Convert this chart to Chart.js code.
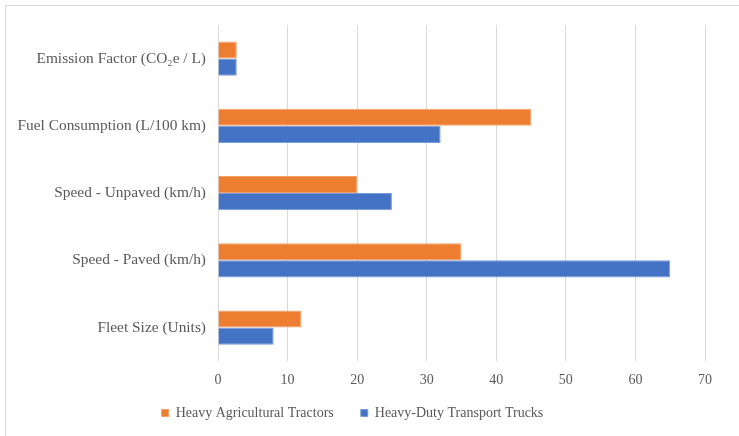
<!DOCTYPE html>
<html>
<head>
<meta charset="utf-8">
<script src="https://cdn.jsdelivr.net/npm/chart.js@4.4.0/dist/chart.umd.min.js"></script>
<style>
  body { margin: 0; background: #fff; }
  #frame { position: absolute; left: 5px; top: 5px; width: 800px; height: 800px; border: 1px solid #d9d9d9; }
  #wrap { position: absolute; left: 0; top: 0; width: 739px; height: 436px; }
</style>
</head>
<body>
<div id="frame"></div>
<div id="wrap"><canvas id="chart"></canvas></div>
<script>
        const categories = ['Emission Factor (CO\u2082e / L)', 'Fuel Consumption (L/100 km)', 'Speed - Unpaved (km/h)', 'Speed - Paved (km/h)', 'Fleet Size (Units)'];
        const tractorValues = [2.7, 45, 20, 35, 12];
        const truckValues = [2.7, 32, 25, 65, 8];
        const xTicks = [0, 10, 20, 30, 40, 50, 60, 70];

        const family = '"Liberation Serif", "Times New Roman", serif';

        // legend sits a bit closer to the axis labels than chart.js would put it
        const legendLift = {
            id: 'legendLift',
            afterLayout(chart) {
                chart.legend.top -= 21;
                chart.legend.bottom -= 21;
            }
        };

        const ctx = document.getElementById('chart').getContext('2d');
        new Chart(ctx, {
            type: 'bar',
            data: {
                labels: categories,
                datasets: [{
                    label: 'Heavy Agricultural Tractors',
                    data: tractorValues,
                    backgroundColor: '#ED7D31',
                    borderColor: '#F4A06A',
                    borderWidth: 1,
                    categoryPercentage: 0.51,
                    barPercentage: 1.0
                }, {
                    label: 'Heavy-Duty Transport Trucks',
                    data: truckValues,
                    backgroundColor: '#4472C4',
                    borderColor: '#7A9BD6',
                    borderWidth: 1,
                    categoryPercentage: 0.51,
                    barPercentage: 1.0
                }]
            },
            options: {
                indexAxis: 'y',
                responsive: true,
                maintainAspectRatio: false,
                animation: false,
                layout: {
                    padding: { top: 25, right: 34, bottom: -15, left: 0 }
                },
                plugins: {
                    legend: {
                        position: 'bottom',
                        labels: {
                            font: { family: family, size: 14 },
                            color: '#595959',
                            boxWidth: 7,
                            boxHeight: 7,
                            padding: 27,
                            useBorderRadius: false
                        }
                    },
                    tooltip: { enabled: false }
                },
                scales: {
                    x: {
                        min: 0,
                        max: 70,
                        afterBuildTicks: function(scale) {
                            scale.ticks = xTicks.map(v => ({ value: v }));
                        },
                        ticks: { font: { family: family, size: 14 }, color: '#595959', padding: 11 },
                        grid: { color: '#d9d9d9', lineWidth: 1, drawTicks: false },
                        border: { display: false }
                    },
                    y: {
                        afterFit: function(scale) { scale.width = 218; },
                        ticks: { font: { family: family, size: 15.4 }, color: '#595959', padding: 4 },
                        grid: { display: false },
                        border: { display: false }
                    }
                }
            },
            plugins: [legendLift]
        });
</script>
</body>
</html>
